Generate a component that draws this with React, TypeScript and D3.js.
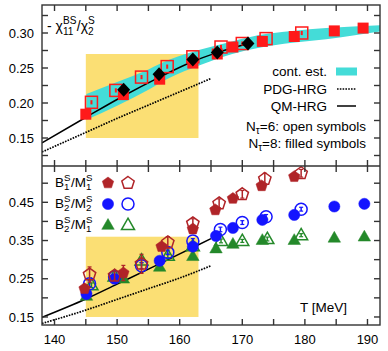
import React, { useEffect, useRef } from 'react';
import * as d3 from 'd3';

// ---- upper panel: -chi11^BS / chi2^S ----
const sq8T = [145, 151, 156.8, 162.1, 166, 168.5, 173.2, 178.3, 184.7, 189.3];
const sq8V = [0.184, 0.212, 0.234, 0.257, 0.27, 0.28, 0.288, 0.295, 0.303, 0.307];
const sq6T = [145.9, 149.8, 153.9, 158, 162.1, 166.6, 170, 173.8, 179.5];
const sq6V = [0.201, 0.218, 0.237, 0.252, 0.266, 0.28, 0.285, 0.292, 0.3];
const diaT = [151.05, 156.7, 162.1, 166, 170.9];
const diaV = [0.219, 0.241, 0.262, 0.272, 0.285];

// continuum estimate band
const bandT = [145.1, 150, 155, 158.4, 163.2, 168.4, 172.7, 178, 183.4, 192];
const bandHi = [0.213, 0.23, 0.248, 0.262, 0.276, 0.288, 0.297, 0.303, 0.307, 0.311];
const bandLo = [0.176, 0.196, 0.219, 0.236, 0.254, 0.27, 0.279, 0.286, 0.291, 0.302];

// HRG curves, upper panel
const qmTopT = [138, 145.1, 151, 156.8, 162, 166, 171];
const qmTopV = [0.143, 0.18, 0.21, 0.237, 0.259, 0.272, 0.285];
const pdgTopT = [138, 145, 150, 155, 160, 165];
const pdgTopV = [0.13, 0.158, 0.178, 0.197, 0.216, 0.235];

// ---- lower panel: B/M ratios ----
const hrgBotT = [138, 145, 150, 155, 160, 165];
const qmBotV = [0.149, 0.197, 0.236, 0.275, 0.315, 0.355];
const pdgBotV = [0.133, 0.168, 0.196, 0.224, 0.252, 0.284];

const b1m1FT = [144.8, 151, 157.1, 162.1, 165.7, 168.5, 173.1, 178.3];
const b1m1FV = [0.224, 0.265, 0.334, 0.38, 0.43, 0.46, 0.493, 0.517];
const b1m1FE = [0.01, 0.02, 0.01, 0.01, 0.01, 0.008, 0.01, 0.006];
const b1m1OT = [145.6, 149.6, 153.9, 158.1, 162.1, 166.3, 170, 173.6, 179.4];
const b1m1OV = [0.261, 0.258, 0.289, 0.345, 0.395, 0.447, 0.471, 0.511, 0.526];
const b1m1OE = [0.02, 0.012, 0.025, 0.015, 0.012, 0.012, 0.01, 0.015, 0.01];

const b2m2FT = [145.1, 149.6, 156.8, 162.1, 165.8, 168.5, 173.2, 178.3, 184.7, 189.5];
const b2m2FV = [0.21, 0.25, 0.297, 0.334, 0.362, 0.383, 0.404, 0.417, 0.439, 0.446];
const b2m2OT = [145.6, 149.6, 153.9, 158.1, 162.1, 166.5, 170, 173.8, 179.4];
const b2m2OV = [0.237, 0.255, 0.284, 0.319, 0.349, 0.379, 0.397, 0.412, 0.432];
const b2m2OE = [0.008, 0.006, 0.008, 0.006, 0.006, 0.006, 0.005, 0.006, 0.005];

const b2m1FT = [145.1, 151, 156.8, 162.1, 165.8, 168.5, 173.2, 178.3, 184.7, 189.5];
const b2m1FV = [0.205, 0.25, 0.281, 0.309, 0.329, 0.341, 0.351, 0.351, 0.357, 0.36];
const b2m1OT = [145.9, 149.6, 153.9, 158.1, 162.1, 166.6, 170, 174, 179.4];
const b2m1OV = [0.233, 0.256, 0.298, 0.31, 0.335, 0.349, 0.349, 0.354, 0.364];
const b2m1OE = [0.006, 0.005, 0.006, 0.005, 0.005, 0.005, 0.004, 0.005, 0.004];

const xTickLabels = [140, 150, 160, 170, 180, 190];
const yTopLabels = [0.15, 0.2, 0.25, 0.3];
const yBotLabels = [0.15, 0.25, 0.35, 0.45];

const RED = '#ff1a1a';
const DRED = '#b02428';
const BLUE = '#1414ff';
const GREEN = '#24892a';
const CYAN = '#44dcd8';
const YELLOW = '#fbdf74';
const FONT = '"Liberation Sans", Arial, Helvetica, sans-serif';

const pentagon = (r: number) => {
  const pts = d3.range(5).map(k => {
    const a = -Math.PI / 2 + k * 2 * Math.PI / 5;
    return [r * Math.cos(a), r * Math.sin(a)];
  });
  return 'M' + pts.map(p => p.join(',')).join('L') + 'Z';
};
const triangle = (s: number) => {
  const h = s * Math.sqrt(3) / 2;
  return `M0,${-h * 0.6}L${s / 2},${h * 0.4}L${-s / 2},${h * 0.4}Z`;
};

const App = () => {
  const ref = useRef<SVGSVGElement>(null);

  useEffect(() => {
    const svg = d3.select(ref.current);
    svg.selectAll('*').remove();

    const left = 42, right = 380, top = 5, mid = 166, bottom = 325;
    const x = d3.scaleLinear().domain([138, 192]).range([left, right]);
    const yT = d3.scaleLinear().domain([0.11, 0.34]).range([mid, top]);
    const yB = d3.scaleLinear().domain([0.129, 0.545]).range([bottom, mid]);

    const defs = svg.append('defs');
    defs.append('clipPath').attr('id', 'clipT').append('rect')
      .attr('x', left).attr('y', top).attr('width', right - left).attr('height', mid - top);
    defs.append('clipPath').attr('id', 'clipB').append('rect')
      .attr('x', left).attr('y', mid).attr('width', right - left).attr('height', bottom - mid);

    const gT = svg.append('g').attr('clip-path', 'url(#clipT)');
    const gB = svg.append('g').attr('clip-path', 'url(#clipB)');

    // yellow boxes
    gT.append('rect').attr('x', x(145)).attr('y', yT(0.27))
      .attr('width', x(163) - x(145)).attr('height', yT(0.15) - yT(0.27)).attr('fill', YELLOW);
    gB.append('rect').attr('x', x(145)).attr('y', yB(0.36))
      .attr('width', x(163) - x(145)).attr('height', yB(0.15) - yB(0.36)).attr('fill', YELLOW);

    // continuum band
    const area = d3.area<number>()
      .x((_, i) => x(bandT[i]))
      .y0((_, i) => yT(bandLo[i]))
      .y1(d => yT(d))
      .curve(d3.curveMonotoneX);
    gT.append('path').datum(bandHi).attr('d', area).attr('fill', CYAN);

    const drawLine = (g: any, ts: number[], vs: number[], y: any, dotted: boolean) => {
      const line = d3.line<number>().x((_, i) => x(ts[i])).y(d => y(d)).curve(d3.curveMonotoneX);
      g.append('path').datum(vs).attr('d', line).attr('fill', 'none')
        .attr('stroke', '#000').attr('stroke-width', dotted ? 1.7 : 1.5)
        .attr('stroke-dasharray', dotted ? '1.6,1.2' : null);
    };
    drawLine(gT, pdgTopT, pdgTopV, yT, true);
    drawLine(gT, qmTopT, qmTopV, yT, false);
    drawLine(gB, hrgBotT, pdgBotV, yB, true);
    drawLine(gB, hrgBotT, qmBotV, yB, false);

    const errBar = (g: any, cx: number, y1: number, y2: number, color: string) => {
      g.append('line').attr('x1', cx).attr('x2', cx).attr('y1', y1).attr('y2', y2)
        .attr('stroke', color).attr('stroke-width', 1.5);
      [y1, y2].forEach(yy => g.append('line').attr('x1', cx - 2).attr('x2', cx + 2)
        .attr('y1', yy).attr('y2', yy).attr('stroke', color).attr('stroke-width', 1.2));
    };

    // upper panel markers
    sq8T.forEach((t, i) => {
      gT.append('rect').attr('x', x(t) - 5.5).attr('y', yT(sq8V[i]) - 5.5)
        .attr('width', 11).attr('height', 11).attr('fill', RED);
    });
    sq6T.forEach((t, i) => {
      gT.append('rect').attr('x', x(t) - 6).attr('y', yT(sq6V[i]) - 6)
        .attr('width', 12).attr('height', 12).attr('fill', 'none')
        .attr('stroke', RED).attr('stroke-width', 1.5);
      gT.append('line').attr('x1', x(t)).attr('x2', x(t))
        .attr('y1', yT(sq6V[i] + 0.003)).attr('y2', yT(sq6V[i] - 0.003))
        .attr('stroke', RED).attr('stroke-width', 2);
    });
    diaT.forEach((t, i) => {
      gT.append('path').attr('transform', `translate(${x(t)},${yT(diaV[i])})`)
        .attr('d', 'M0,-7L6.5,0L0,7L-6.5,0Z').attr('fill', '#000');
    });

    // lower panel markers
    const marker = (g: any, kind: string, cx: number, cy: number, color: string, filled: boolean) => {
      if (kind === 'pent') {
        g.append('path').attr('transform', `translate(${cx},${cy})`).attr('d', pentagon(filled ? 6 : 6.5))
          .attr('fill', filled ? color : 'none').attr('stroke', color).attr('stroke-width', filled ? 0.5 : 1.5);
      } else if (kind === 'circ') {
        g.append('circle').attr('cx', cx).attr('cy', cy).attr('r', filled ? 5.6 : 6)
          .attr('fill', filled ? color : 'none').attr('stroke', color).attr('stroke-width', filled ? 0.5 : 1.5);
      } else {
        g.append('path').attr('transform', `translate(${cx},${cy})`).attr('d', triangle(filled ? 12.5 : 13))
          .attr('fill', filled ? color : 'none').attr('stroke', color).attr('stroke-width', filled ? 0.5 : 1.5);
      }
    };
    const series = (kind: string, ts: number[], vs: number[], es: number[] | null, color: string, filled: boolean) => {
      ts.forEach((t, i) => {
        if (es) errBar(gB, x(t), yB(vs[i] - es[i]), yB(vs[i] + es[i]), color);
        marker(gB, kind, x(t), yB(vs[i]), color, filled);
      });
    };
    series('tri', b2m1FT, b2m1FV, null, GREEN, true);
    series('tri', b2m1OT, b2m1OV, b2m1OE, GREEN, false);
    series('circ', b2m2FT, b2m2FV, null, BLUE, true);
    series('circ', b2m2OT, b2m2OV, b2m2OE, BLUE, false);
    series('pent', b1m1FT, b1m1FV, b1m1FE, DRED, true);
    series('pent', b1m1OT, b1m1OV, b1m1OE, DRED, false);

    // frame and ticks
    const ax = svg.append('g').attr('stroke', '#333').attr('stroke-width', 1.4);
    ax.append('rect').attr('x', left).attr('y', top).attr('width', right - left)
      .attr('height', bottom - top).attr('fill', 'none');
    ax.append('line').attr('x1', left).attr('x2', right).attr('y1', mid).attr('y2', mid);
    const tl = 6;
    d3.range(140, 191, 5).forEach(t => {
      const xx = x(t);
      [[top, top + tl], [mid, mid - tl], [mid, mid + tl], [bottom, bottom - tl]].forEach(([a, b]) =>
        ax.append('line').attr('x1', xx).attr('x2', xx).attr('y1', a).attr('y2', b));
    });
    d3.range(0.125, 0.33, 0.025).forEach(v => {
      const yy = yT(v);
      ax.append('line').attr('x1', left).attr('x2', left + tl).attr('y1', yy).attr('y2', yy);
      ax.append('line').attr('x1', right).attr('x2', right - tl).attr('y1', yy).attr('y2', yy);
    });
    d3.range(0.15, 0.52, 0.05).forEach(v => {
      const yy = yB(v);
      ax.append('line').attr('x1', left).attr('x2', left + tl).attr('y1', yy).attr('y2', yy);
      ax.append('line').attr('x1', right).attr('x2', right - tl).attr('y1', yy).attr('y2', yy);
    });

    const txt = svg.append('g').attr('font-family', FONT).attr('fill', '#000');
    yTopLabels.forEach(v => txt.append('text').attr('x', 34).attr('y', yT(v)).attr('dy', '0.36em')
      .attr('text-anchor', 'end').attr('font-size', 13).text(v.toFixed(2)));
    yBotLabels.forEach(v => txt.append('text').attr('x', 34).attr('y', yB(v)).attr('dy', '0.36em')
      .attr('text-anchor', 'end').attr('font-size', 13).text(v.toFixed(2)));
    xTickLabels.forEach(t => txt.append('text').attr('x', x(t)).attr('y', 344)
      .attr('text-anchor', 'middle').attr('font-size', 13).text(t));
    txt.append('text').attr('x', 347).attr('y', 312).attr('text-anchor', 'end')
      .attr('font-size', 13.5).text('T [MeV]');

    // text with stacked sub/superscripts
    type Part = { t?: string; sub?: string; sup?: string };
    const rich = (x0: number, y0: number, size: number, parts: Part[]) => {
      let cx = x0;
      parts.forEach(p => {
        if (p.t) {
          const el = txt.append('text').attr('x', cx).attr('y', y0).attr('font-size', size).text(p.t);
          cx += (el.node() as SVGTextElement).getComputedTextLength();
        } else {
          const s = size * 0.72;
          let w = 0;
          if (p.sub) {
            const el = txt.append('text').attr('x', cx).attr('y', y0 + size * 0.25).attr('font-size', s).text(p.sub);
            w = Math.max(w, (el.node() as SVGTextElement).getComputedTextLength());
          }
          if (p.sup) {
            const el = txt.append('text').attr('x', cx).attr('y', y0 - size * 0.48).attr('font-size', s).text(p.sup);
            w = Math.max(w, (el.node() as SVGTextElement).getComputedTextLength());
          }
          cx += w + 0.5;
        }
      });
    };
    rich(47, 31, 14, [{ t: '- χ' }, { sub: '11', sup: 'BS' }, { t: '/χ' }, { sub: '2', sup: 'S' }]);

    // upper legend
    const lg = [
      { label: 'cont. est.', y: 76 },
      { label: 'PDG-HRG', y: 94 },
      { label: 'QM-HRG', y: 111 },
    ];
    lg.forEach(d => txt.append('text').attr('x', 327).attr('y', d.y).attr('text-anchor', 'end')
      .attr('font-size', 13.5).text(d.label));
    svg.append('rect').attr('x', 336).attr('y', 67.5).attr('width', 21).attr('height', 8).attr('fill', CYAN);
    svg.append('line').attr('x1', 337).attr('x2', 356).attr('y1', 89).attr('y2', 89)
      .attr('stroke', '#000').attr('stroke-width', 1.7).attr('stroke-dasharray', '1.6,1.2');
    svg.append('line').attr('x1', 337).attr('x2', 356).attr('y1', 106).attr('y2', 106)
      .attr('stroke', '#000').attr('stroke-width', 1.5);
    const nt = (y0: number, n: string, rest: string) => {
      const el = txt.append('text').attr('x', 366).attr('y', y0).attr('text-anchor', 'end').attr('font-size', 13.5);
      el.append('tspan').text('N');
      el.append('tspan').attr('font-size', 10).attr('dy', 3).text('τ');
      el.append('tspan').attr('dy', -3).text(`=${n}: ${rest}`);
    };
    nt(131, '6', 'open symbols');
    nt(148, '8', 'filled symbols');

    // lower legend
    const rows = [
      { y: 187, a: '1', b: '1', kind: 'pent', color: DRED },
      { y: 208, a: '2', b: '2', kind: 'circ', color: BLUE },
      { y: 229, a: '2', b: '1', kind: 'tri', color: GREEN },
    ];
    rows.forEach(r => {
      rich(55, r.y, 13.5, [{ t: 'B' }, { sub: r.a, sup: 'S' }, { t: '/M' }, { sub: r.b, sup: 'S' }]);
      marker(svg, r.kind, 108, r.y - 4, r.color, true);
      marker(svg, r.kind, 128, r.y - 4, r.color, false);
    });
  }, []);

  return <svg ref={ref} width={388} height={351} style={{ position: 'absolute', left: 0, top: 0, background: '#fff' }} />;
};

export default App;
